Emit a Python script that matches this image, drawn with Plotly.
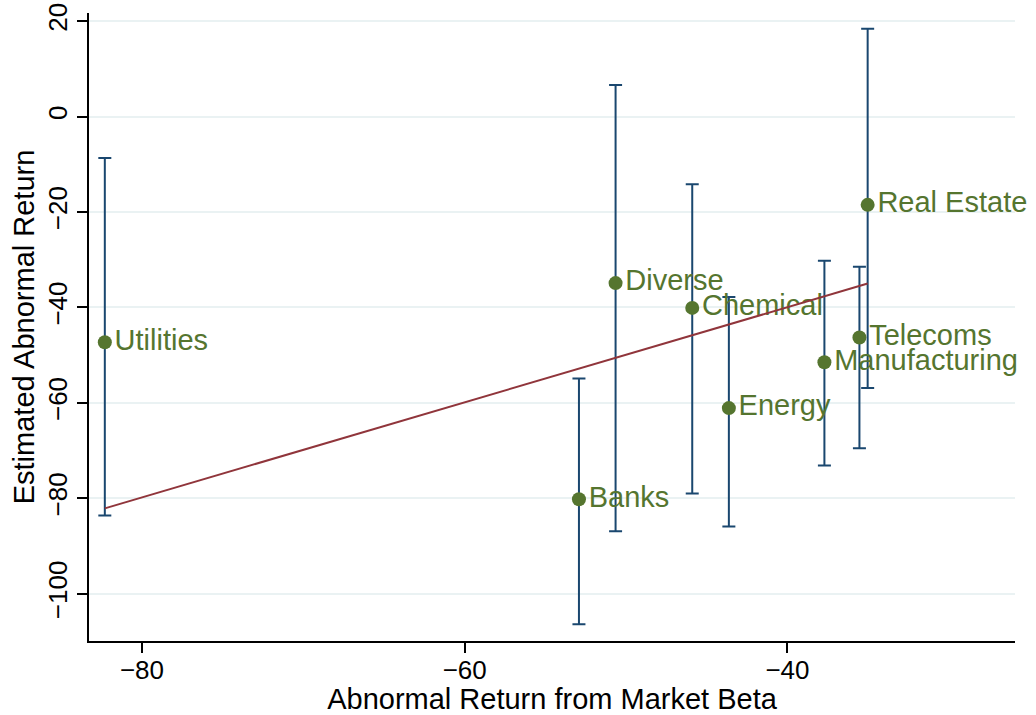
import plotly.graph_objects as go

# Industry estimates with confidence bounds
industries = ["Utilities", "Banks", "Diverse", "Chemical", "Energy",
              "Manufacturing", "Telecoms", "Real Estate"]
beta_return = [-82.3, -52.92, -50.65, -45.9, -43.63, -37.71, -35.54, -35.03]
abnormal_return = [-47.3, -80.2, -34.9, -40.1, -61.1, -51.5, -46.3, -18.5]
ci_upper = [-8.7, -54.9, 6.6, -14.2, -37.8, -30.2, -31.5, 18.4]
ci_lower = [-83.6, -106.4, -86.9, -79.0, -85.9, -73.1, -69.5, -56.9]

# Fitted line endpoints
fit_x = [-82.3, -35.03]
fit_y = [-82.1, -35.0]

NAVY = "#1a476f"
GREEN = "#55752f"
MAROON = "#90353b"
GRID = "#eaf2f3"
FONT = "Liberation Sans, Arial, Helvetica, sans-serif"

err_plus = [u - y for u, y in zip(ci_upper, abnormal_return)]
err_minus = [y - l for l, y in zip(ci_lower, abnormal_return)]

fig = go.Figure()

fig.add_trace(go.Scatter(
    x=beta_return, y=abnormal_return,
    mode="markers+text",
    text=industries,
    textposition="middle right",
    textfont=dict(family=FONT, size=29, color=GREEN),
    marker=dict(size=14, color=GREEN),
    error_y=dict(type="data", symmetric=False,
                 array=err_plus, arrayminus=err_minus,
                 color=NAVY, thickness=2, width=6.5),
    showlegend=False,
    cliponaxis=False,
))

fig.add_trace(go.Scatter(
    x=fit_x, y=fit_y, mode="lines",
    line=dict(color=MAROON, width=2),
    showlegend=False,
))

fig.update_layout(
    width=1036, height=715,
    margin=dict(l=89, r=21, t=13, b=74),
    paper_bgcolor="white", plot_bgcolor="white",
    font=dict(family=FONT, color="black"),
    xaxis=dict(
        range=[-83.28, -25.9],
        tickvals=[-80, -60, -40],
        automargin=False,
        showgrid=False, zeroline=False,
        showline=True, linecolor="black", linewidth=1.7,
        ticks="outside", ticklen=10, tickwidth=1.7, tickcolor="black",
        ticklabelstandoff=-5,
        tickfont=dict(size=26, family=FONT),
        title=dict(text="Abnormal Return from Market Beta",
                   font=dict(size=29, family=FONT), standoff=13),
    ),
    yaxis=dict(
        range=[-109.9, 21.7],
        tickvals=[-100, -80, -60, -40, -20, 0, 20],
        tickangle=-90,
        automargin=False,
        showgrid=True, gridcolor=GRID, gridwidth=2,
        zeroline=False,
        showline=True, linecolor="black", linewidth=1.7,
        ticks="outside", ticklen=10, tickwidth=1.7, tickcolor="black",
        tickfont=dict(size=26, family=FONT),
        title=dict(text="Estimated Abnormal Return",
                   font=dict(size=29, family=FONT), standoff=0),
    ),
)

fig.write_html("out.html")
